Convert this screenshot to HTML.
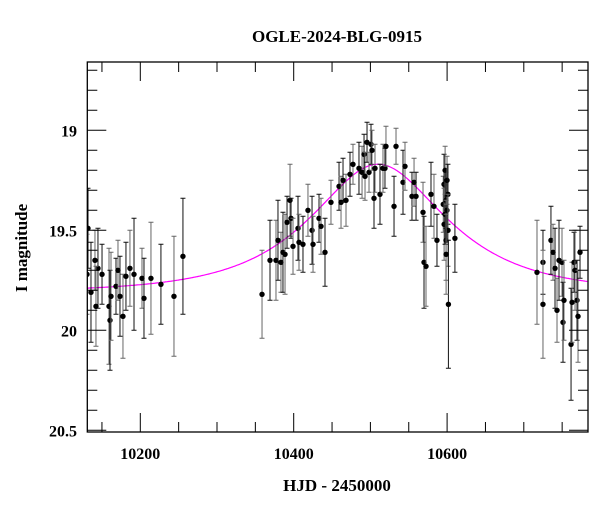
<!DOCTYPE html>
<html><head><meta charset="utf-8"><style>
html,body{margin:0;padding:0;background:#fff;}
svg{display:block;font-family:"Liberation Serif","DejaVu Serif",serif;}
</style></head><body>
<svg id="chart" width="600" height="512" viewBox="0 0 600 512">
<defs><clipPath id="pc"><rect x="87.3" y="62" width="500.7" height="370"/></clipPath></defs>
<text x="337" y="42" text-anchor="middle" font-size="17" font-weight="bold">OGLE-2024-BLG-0915</text>
<text x="337" y="491" text-anchor="middle" font-size="17" font-weight="bold">HJD - 2450000</text>
<text transform="translate(27,248) rotate(-90)" text-anchor="middle" font-size="17" font-weight="bold">I magnitude</text>
<g id="plot"></g>
</svg>
<script>
const days=[10131.8,10130.5,10135.7,10140.9,10144.8,10142.2,10150.1,10159.2,10160.5,10161.8,10168.3,10170.9,10173.5,10177.4,10181.3,10186.5,10191.8,10202.2,10204.8,10213.9,10226.9,10243.9,10255.6,
10358.7,10369.1,10376.9,10379.5,10383.4,10386.0,10388.7,10391.3,10395.2,10396.5,10399.1,10405.6,10406.9,10412.1,10418.6,10423.9,10425.2,10433.0,10435.6,10440.8,10448.6,10459.1,10461.7,10464.3,10468.2,10473.4,10477.3,10485.1,10489.1,10491.7,10493.0,10495.6,10498.2,10500.8,10502.1,10504.7,10506.0,10512.5,10516.4,10519.0,10520.3,10530.8,10533.4,10542.5,10545.1,10554.2,10556.9,10559.5,10568.6,10569.9,10572.5,10579.0,10582.9,10586.8,
10595.0,10596.0,10596.1,10597.3,10597.4,10598.5,10598.6,10599.8,10599.9,10601.1,10601.2,10601.7,10598.7,10610.2,
10717.2,10725.0,10725.0,10735.4,10738.1,10740.7,10743.3,10745.9,10749.8,10751.1,10752.4,10761.6,10762.9,10765.5,10766.8,10769.4,10770.7,10773.3];
const mags=[19.49,19.72,19.81,19.65,19.69,19.88,19.72,19.88,19.95,19.83,19.78,19.70,19.83,19.93,19.73,19.69,19.72,19.74,19.84,19.74,19.77,19.83,19.63,
19.82,19.65,19.65,19.55,19.66,19.61,19.62,19.46,19.35,19.44,19.58,19.49,19.56,19.57,19.40,19.50,19.57,19.44,19.48,19.61,19.36,19.28,19.36,19.25,19.35,19.22,19.17,19.19,19.21,19.12,19.23,19.06,19.21,19.07,19.10,19.34,19.19,19.32,19.19,19.19,19.08,19.38,19.08,19.26,19.18,19.33,19.26,19.33,19.41,19.66,19.68,19.32,19.38,19.55,
19.37,19.27,19.47,19.42,19.20,19.35,19.55,19.40,19.25,19.32,19.50,19.87,19.62,19.54,
19.71,19.66,19.87,19.55,19.61,19.69,19.90,19.65,19.66,19.96,19.85,20.07,19.86,19.66,19.70,19.85,19.93,19.61];
const errs=[0.2,0.2,0.25,0.15,0.2,0.2,0.15,0.29,0.25,0.22,0.14,0.15,0.2,0.21,0.17,0.19,0.28,0.15,0.2,0.28,0.2,0.3,0.29,
0.22,0.2,0.2,0.2,0.15,0.2,0.2,0.13,0.18,0.1,0.14,0.16,0.14,0.14,0.13,0.17,0.14,0.12,0.14,0.17,0.11,0.12,0.13,0.11,0.13,0.11,0.1,0.13,0.13,0.1,0.12,0.1,0.1,0.1,0.1,0.15,0.12,0.15,0.12,0.1,0.1,0.15,0.09,0.16,0.12,0.12,0.12,0.12,0.15,0.23,0.2,0.16,0.16,0.13,
0.14,0.15,0.18,0.15,0.12,0.14,0.2,0.15,0.12,0.15,0.18,0.32,0.2,0.17,
0.26,0.16,0.27,0.17,0.14,0.2,0.16,0.2,0.17,0.2,0.2,0.28,0.2,0.15,0.2,0.2,0.23,0.13];
const xTickLabels=[10200,10400,10600];
const yTickLabels=[19,19.5,20,20.5];
const modelT0=[10510];const modelU0=[0.635];const modelTE=[135];const modelBase=[19.81];

const X0=87.3,X1=588,Y0=62,Y1=432;
const xs=d=>293.7+(d-10400)*0.767;
const ys=m=>130.3+(m-19)*200;
const NS='http://www.w3.org/2000/svg';
const g=document.getElementById('plot');
function mk(t,a,p){const e=document.createElementNS(NS,t);for(const k in a)e.setAttribute(k,a[k]);(p||g).appendChild(e);return e;}
const clip=mk('g',{'clip-path':'url(#pc)'});


let pts=[];
for(let px=X0;px<=X1;px+=1){const d=10400+(px-293.7)/0.767;const tau=(d-modelT0[0])/modelTE[0];const u=Math.sqrt(modelU0[0]*modelU0[0]+tau*tau);const A=(u*u+2)/(u*Math.sqrt(u*u+4));pts.push(px.toFixed(1)+','+ys(modelBase[0]-2.5*Math.log10(A)).toFixed(1));}
const model=mk('polyline',{points:pts.join(' '),fill:'none',stroke:'#ff00ff','stroke-width':1.2},clip);


days.forEach((d,i)=>{const x=xs(d),y=ys(mags[i]),e=errs[i]*200;const col=i%2?'#666':'#111';
const eb=mk('path',{d:`M${x} ${y-e}V${y+e}M${x-2.5} ${y-e}h5M${x-2.5} ${y+e}h5`,stroke:col,'stroke-width':1,fill:'none'},clip);


const c=mk('circle',{cx:x,cy:y,r:2.7,fill:'#000'},clip);

});
const fr=mk('rect',{x:X0,y:Y0,width:X1-X0,height:Y1-Y0,fill:'none',stroke:'#000','stroke-width':1.3});


let tp='';
for(let d=10150;d<=10780;d+=50){const x=xs(d);if(x<=X0||x>=X1)continue;const L=(d%200===0)?19:10;tp+=`M${x} ${Y1}v${-L}M${x} ${Y0}v${L}`;}
for(let m=18.7;m<=20.51;m+=0.1){const y=ys(m);if(y<=Y0||y>=Y1+0.5)continue;const maj=Math.abs(m*2-Math.round(m*2))<0.01;const L=maj?19:10;tp+=`M${X0} ${y}h${L}M${X1} ${y}h${-L}`;}
const tk=mk('path',{d:tp,stroke:'#000','stroke-width':1,fill:'none'});


xTickLabels.forEach(v=>{const t=mk('text',{x:xs(v),y:459,'text-anchor':'middle','font-size':16,'font-weight':'bold'});t.textContent=v;

});
yTickLabels.forEach(v=>{const t=mk('text',{x:77,y:ys(v)+6,'text-anchor':'end','font-size':16,'font-weight':'bold'});t.textContent=v;

});
</script>
</body></html>
